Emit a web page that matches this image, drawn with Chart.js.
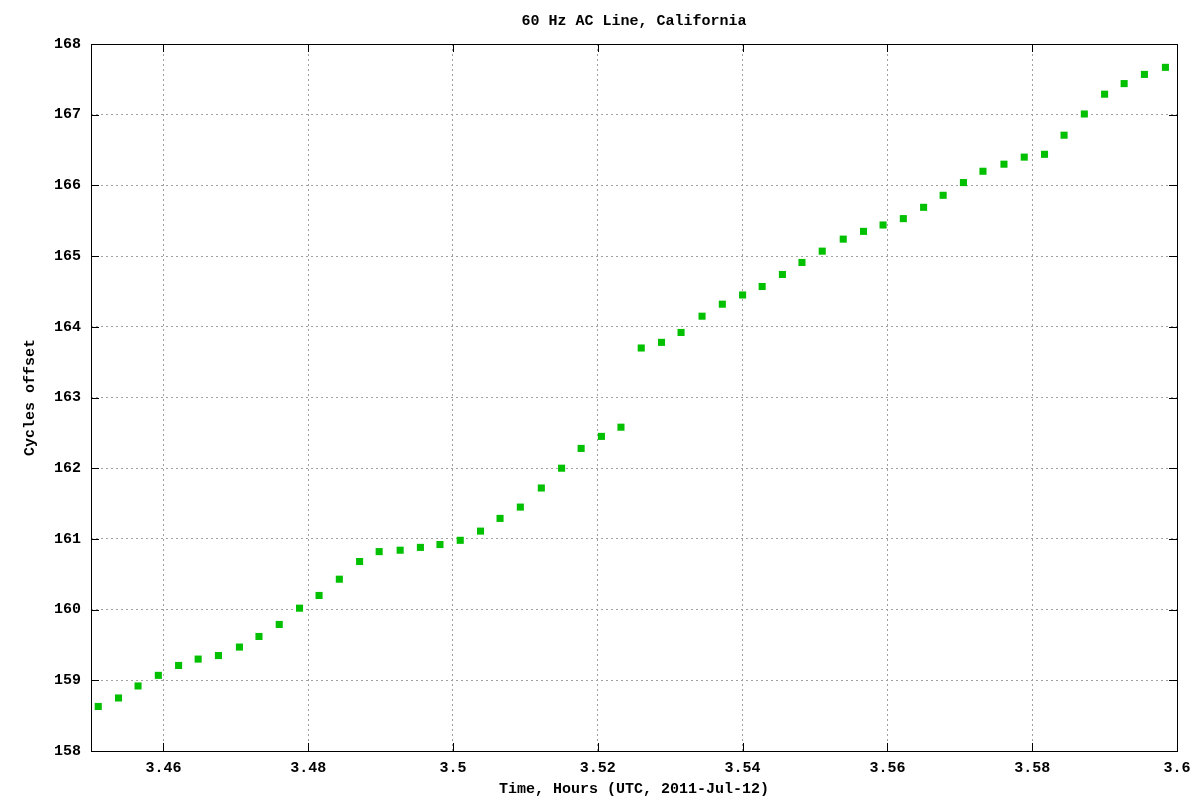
<!DOCTYPE html>
<html lang="en">
<head>
    <meta charset="UTF-8">
    <title>60 Hz AC Line, California</title>
    <script src="https://cdn.jsdelivr.net/npm/chart.js"></script>
    <style>
        body {
            margin: 0;
            padding: 0;
            background: #fff;
        }

        .wrap {
            width: 1200px;
            height: 800px;
        }
    </style>
</head>
<body>
    <div class="wrap">
        <canvas id="ac-chart" width="1200" height="800"></canvas>
    </div>
    <script>
        // time in hours (UTC), one sample every ~10 s
        const hours = [
            3.4510, 3.4538, 3.4565, 3.4593, 3.4621, 3.4648, 3.4676, 3.4705, 3.4732, 3.4760,
            3.4788, 3.4815, 3.4843, 3.4871, 3.4898, 3.4927, 3.4955, 3.4982, 3.5010, 3.5038,
            3.5065, 3.5093, 3.5122, 3.5150, 3.5177, 3.5205, 3.5232, 3.5260, 3.5288, 3.5315,
            3.5344, 3.5372, 3.5400, 3.5427, 3.5455, 3.5482, 3.5510, 3.5539, 3.5567, 3.5594,
            3.5622, 3.5650, 3.5677, 3.5705, 3.5732, 3.5761, 3.5789, 3.5817, 3.5844, 3.5872,
            3.5900, 3.5927, 3.5955, 3.5984
        ];
        const cycles = [
            158.63, 158.75, 158.92, 159.07, 159.21, 159.30, 159.35, 159.47, 159.62, 159.79,
            160.02, 160.20, 160.43, 160.68, 160.82, 160.84, 160.88, 160.92, 160.98, 161.11,
            161.29, 161.45, 161.72, 162.00, 162.28, 162.45, 162.58, 163.70, 163.78, 163.92,
            164.15, 164.32, 164.45, 164.57, 164.74, 164.91, 165.07, 165.24, 165.35, 165.44,
            165.53, 165.69, 165.86, 166.04, 166.20, 166.30, 166.40, 166.44, 166.71, 167.01,
            167.29, 167.44, 167.57, 167.67
        ];
        const xTicks = [3.46, 3.48, 3.5, 3.52, 3.54, 3.56, 3.58, 3.6];
        const yTicks = [158, 159, 160, 161, 162, 163, 164, 165, 166, 167, 168];

        const fontFamily = "'Liberation Mono', 'DejaVu Sans Mono', monospace";
        const labelFont = { family: fontFamily, size: 15, weight: 'bold', lineHeight: 1.2 };

        // gnuplot-like frame: solid border with inward ticks on all four sides
        const framePlugin = {
            id: 'frame',
            afterDatasetsDraw(chart) {
                const { ctx, chartArea: a, scales } = chart;
                const tick = 8;
                ctx.save();
                ctx.strokeStyle = '#000';
                ctx.lineWidth = 1;
                ctx.beginPath();
                xTicks.forEach(v => {
                    const px = Math.round(scales.x.getPixelForValue(v)) + 0.5;
                    ctx.moveTo(px, a.bottom);
                    ctx.lineTo(px, a.bottom - tick);
                    ctx.moveTo(px, a.top);
                    ctx.lineTo(px, a.top + tick);
                });
                yTicks.forEach(v => {
                    const py = Math.round(scales.y.getPixelForValue(v)) + 0.5;
                    ctx.moveTo(a.left, py);
                    ctx.lineTo(a.left + tick, py);
                    ctx.moveTo(a.right, py);
                    ctx.lineTo(a.right - tick, py);
                });
                ctx.stroke();
                ctx.strokeRect(Math.round(a.left) + 0.5, Math.round(a.top) + 0.5,
                    Math.round(a.right - a.left), Math.round(a.bottom - a.top));
                ctx.restore();
            }
        };

        new Chart(document.getElementById('ac-chart'), {
            type: 'scatter',
            data: {
                datasets: [{
                    label: 'Cycles offset',
                    data: hours.map((h, i) => ({ x: h, y: cycles[i] })),
                    pointStyle: 'rect',
                    pointRadius: 5,
                    pointHoverRadius: 5,
                    borderWidth: 0,
                    backgroundColor: '#00c000',
                    borderColor: '#00c000',
                }],
            },
            options: {
                responsive: false,
                animation: false,
                layout: { padding: { left: 0, right: 23, top: 0, bottom: 0 } },
                plugins: {
                    legend: { display: false },
                    tooltip: { enabled: false },
                    title: {
                        display: true,
                        text: '60 Hz AC Line, California',
                        fullSize: false,
                        color: '#000',
                        font: labelFont,
                        padding: { top: 12, bottom: 14 },
                    },
                },
                scales: {
                    x: {
                        type: 'linear',
                        min: 3.45,
                        max: 3.6,
                        afterFit: s => { s.height = 49; },
                        afterBuildTicks: s => { s.ticks = xTicks.map(v => ({ value: v })); },
                        grid: { color: '#a0a0a0', lineWidth: 1, drawTicks: false },
                        border: { display: false, dash: [2, 3] },
                        ticks: {
                            color: '#000',
                            font: labelFont,
                            padding: 8,
                            autoSkip: false,
                            maxRotation: 0,
                            callback: v => String(v),
                        },
                        title: {
                            display: true,
                            text: 'Time, Hours (UTC, 2011-Jul-12)',
                            color: '#000',
                            font: labelFont,
                            padding: { top: 0, bottom: 2 },
                        },
                    },
                    y: {
                        type: 'linear',
                        min: 158,
                        max: 168,
                        afterFit: s => { s.width = 91; },
                        afterBuildTicks: s => { s.ticks = yTicks.map(v => ({ value: v })); },
                        grid: { color: '#a0a0a0', lineWidth: 1, drawTicks: false },
                        border: { display: false, dash: [2, 3] },
                        ticks: {
                            color: '#000',
                            font: labelFont,
                            padding: 10,
                            autoSkip: false,
                            callback: v => String(v),
                        },
                        title: {
                            display: true,
                            text: 'Cycles offset',
                            color: '#000',
                            font: labelFont,
                            padding: { top: 21, bottom: 0 },
                        },
                    },
                },
            },
            plugins: [framePlugin],
        });
    </script>
</body>
</html>
